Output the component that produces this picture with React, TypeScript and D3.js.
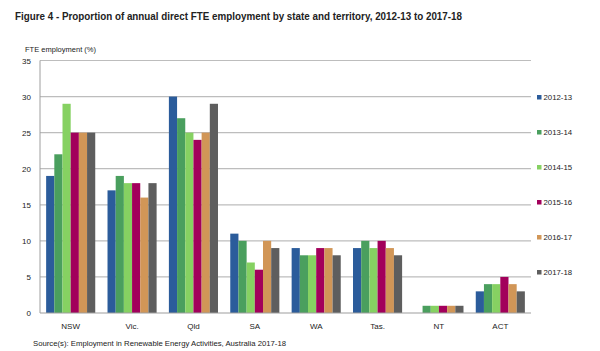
import React from "react";
import * as d3 from "d3";

const categories = ["NSW", "Vic.", "Qld", "SA", "WA", "Tas.", "NT", "ACT"];
const seriesNames = ["2012-13", "2013-14", "2014-15", "2015-16", "2016-17", "2017-18"];
const s2012 = [19, 17, 30, 11, 9, 9, 0, 3];
const s2013 = [22, 19, 27, 10, 8, 10, 1, 4];
const s2014 = [29, 18, 25, 7, 8, 9, 1, 4];
const s2015 = [25, 18, 24, 6, 9, 10, 1, 5];
const s2016 = [25, 16, 25, 10, 9, 9, 1, 4];
const s2017 = [25, 18, 29, 9, 8, 8, 1, 3];
const seriesValues = [s2012, s2013, s2014, s2015, s2016, s2017];
const colors = ["#2B5C9B", "#4A9F5E", "#86D162", "#A2005B", "#D19657", "#5E5E5E"];
const yTicks = [0, 5, 10, 15, 20, 25, 30, 35];

export default function App() {
  const W = 600, H = 351;
  const left = 40, right = 531, top = 60.5, bottom = 313;
  const x = d3.scaleBand<string>().domain(categories).range([left, right]).paddingInner(0.2).paddingOuter(0.1);
  const x1 = d3.scaleBand<string>().domain(seriesNames).range([0, x.bandwidth()]);
  const y = d3.scaleLinear().domain([0, 35]).range([bottom, top]);
  const font = "Liberation Sans, Arial, sans-serif";
  return (
    <svg width={W} height={H} style={{ position: "absolute", left: 0, top: 0, background: "#fff" }} fontFamily={font}>
      <text x={15} y={20} fontSize={11.5} fontWeight="bold" fill="#222" textLength={447} lengthAdjust="spacingAndGlyphs">
        Figure 4 - Proportion of annual direct FTE employment by state and territory, 2012-13 to 2017-18
      </text>
      <text x={25} y={51.5} fontSize={7.3} fill="#222" textLength={71} lengthAdjust="spacingAndGlyphs">FTE employment (%)</text>
      {yTicks.map((t) => (
        <g key={t}>
          {t > 0 && <line x1={left} x2={right} y1={y(t)} y2={y(t)} stroke="#BDBDBD" strokeWidth={1.2} />}
          <text x={31} y={y(t) + 3} fontSize={8} textAnchor="end" fill="#222">{t}</text>
        </g>
      ))}
      {seriesValues.map((vals, si) =>
        vals.map((v, ci) =>
          v > 0 ? (
            <rect
              key={`${si}-${ci}`}
              x={(x(categories[ci]) as number) + (x1(seriesNames[si]) as number)}
              y={y(v)}
              width={x1.bandwidth()}
              height={bottom - y(v)}
              fill={colors[si]}
            />
          ) : null
        )
      )}
      <line x1={left} x2={left} y1={top} y2={bottom} stroke="#9E9E9E" strokeWidth={1} />
      <line x1={left} x2={right} y1={bottom} y2={bottom} stroke="#9E9E9E" strokeWidth={1.2} />
      {categories.map((c) => (
        <text key={c} x={(x(c) as number) + x.bandwidth() / 2} y={329} fontSize={8} textAnchor="middle" fill="#222">{c}</text>
      ))}
      {seriesNames.map((n, i) => (
        <g key={n}>
          <rect x={537} y={95 + i * 35} width={4.5} height={4.5} fill={colors[i]} />
          <text x={543.5} y={100 + i * 35} fontSize={7.8} fill="#222">{n}</text>
        </g>
      ))}
      <text x={33} y={346} fontSize={7.5} fill="#222" textLength={253} lengthAdjust="spacingAndGlyphs">Source(s):  Employment in  Renewable Energy Activities, Australia 2017-18</text>
    </svg>
  );
}
